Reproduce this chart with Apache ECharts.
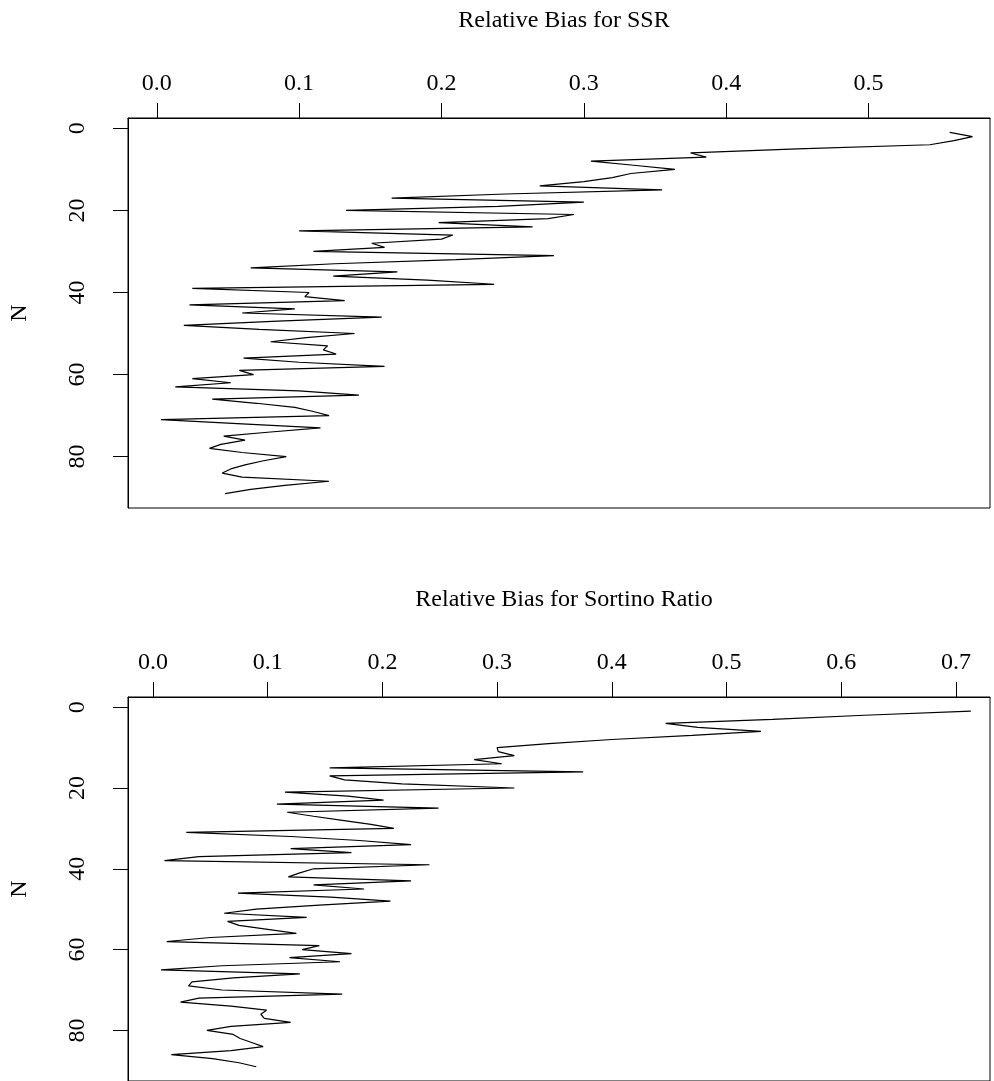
<!DOCTYPE html>
<html>
<head>
<meta charset="utf-8">
<title>Relative Bias</title>
<script src="https://cdn.jsdelivr.net/npm/echarts@6/dist/echarts.min.js"></script>
<style>
  html, body { margin: 0; padding: 0; background: #fff; }
  #chart { width: 994px; height: 1081px; }
</style>
</head>
<body>
<div id="chart"></div>
<script>
// sample size N (y axis) shared by both panels
const sampleSizes = [
  1, 2, 3, 4, 5, 6, 7, 8, 9, 10,
  11, 12, 13, 14, 15, 16, 17, 18, 19, 20,
  21, 22, 23, 24, 25, 26, 27, 28, 29, 30,
  31, 32, 33, 34, 35, 36, 37, 38, 39, 40,
  41, 42, 43, 44, 45, 46, 47, 48, 49, 50,
  51, 52, 53, 54, 55, 56, 57, 58, 59, 60,
  61, 62, 63, 64, 65, 66, 67, 68, 69, 70,
  71, 72, 73, 74, 75, 76, 77, 78, 79, 80,
  81, 82, 83, 84, 85, 86, 87, 88, 89
]

// relative bias for SSR
const ssrBias = [
  0.557, 0.573, 0.560, 0.543, 0.450, 0.375, 0.386, 0.305, 0.335, 0.364,
  0.333, 0.320, 0.300, 0.269, 0.355, 0.245, 0.165, 0.300, 0.240, 0.133,
  0.293, 0.275, 0.198, 0.264, 0.100, 0.208, 0.200, 0.151, 0.160, 0.110,
  0.279, 0.210, 0.125, 0.066, 0.169, 0.124, 0.190, 0.237, 0.025, 0.107,
  0.104, 0.132, 0.023, 0.097, 0.060, 0.158, 0.085, 0.019, 0.072, 0.139,
  0.105, 0.080, 0.120, 0.117, 0.126, 0.061, 0.100, 0.160, 0.058, 0.068,
  0.025, 0.052, 0.013, 0.100, 0.142, 0.039, 0.070, 0.097, 0.110, 0.121,
  0.003, 0.060, 0.115, 0.080, 0.047, 0.062, 0.045, 0.037, 0.060, 0.091,
  0.075, 0.062, 0.052, 0.046, 0.060, 0.121, 0.090, 0.066, 0.048
]

// relative bias for Sortino ratio
const sortinoBias = [
  0.713, 0.620, 0.540, 0.447, 0.475, 0.530, 0.470, 0.400, 0.345, 0.300,
  0.301, 0.315, 0.280, 0.304, 0.154, 0.375, 0.154, 0.167, 0.217, 0.315,
  0.115, 0.170, 0.201, 0.108, 0.249, 0.117, 0.140, 0.165, 0.190, 0.210,
  0.029, 0.120, 0.180, 0.225, 0.120, 0.173, 0.040, 0.010, 0.241, 0.140,
  0.128, 0.118, 0.225, 0.140, 0.184, 0.074, 0.155, 0.207, 0.145, 0.090,
  0.062, 0.134, 0.065, 0.075, 0.100, 0.125, 0.050, 0.012, 0.145, 0.130,
  0.173, 0.119, 0.163, 0.060, 0.007, 0.128, 0.070, 0.034, 0.031, 0.060,
  0.165, 0.040, 0.024, 0.068, 0.099, 0.094, 0.097, 0.120, 0.068, 0.047,
  0.070, 0.076, 0.086, 0.096, 0.068, 0.016, 0.052, 0.075, 0.090
]

const ssrTicks = [0.0, 0.1, 0.2, 0.3, 0.4, 0.5]
const sortinoTicks = [0.0, 0.1, 0.2, 0.3, 0.4, 0.5, 0.6, 0.7]
const nTicks = [0, 20, 40, 60, 80]

const font = 'Liberation Serif'
const fontSize = 24
const black = '#000'

function pairs (values) {
  return values.map((v, i) => [v, sampleSizes[i]])
}

function xAxisFor (i, min, max, ticks) {
  return {
    gridIndex: i,
    type: 'value',
    position: 'top',
    min: min,
    max: max,
    axisLine: { show: true, onZero: false, lineStyle: { color: black, width: 1 } },
    splitLine: { show: false },
    axisTick: { show: true, length: 15, customValues: ticks, lineStyle: { color: black } },
    axisLabel: {
      customValues: ticks,
      formatter: v => v.toFixed(1),
      margin: 22,
      color: black,
      fontFamily: font,
      fontSize: fontSize
    }
  }
}

function yAxisFor (i) {
  return {
    gridIndex: i,
    type: 'value',
    inverse: true,
    min: -2.52,
    max: 92.52,
    name: 'N',
    nameLocation: 'middle',
    nameGap: 96,
    nameRotate: 90,
    nameTextStyle: { color: black, fontFamily: font, fontSize: fontSize },
    axisLine: { show: true, onZero: false, lineStyle: { color: black, width: 1 } },
    splitLine: { show: false },
    axisTick: { show: true, length: 15, customValues: nTicks, lineStyle: { color: black } },
    axisLabel: {
      customValues: nTicks,
      rotate: 90,
      margin: 38,
      color: black,
      fontFamily: font,
      fontSize: fontSize
    }
  }
}

const chart = echarts.init(document.getElementById('chart'), null, { renderer: 'canvas' })

chart.setOption({
  animation: false,
  backgroundColor: '#fff',
  title: [
    {
      text: 'Relative Bias for SSR',
      left: 559,
      top: 4,
      textAlign: 'center',
      textStyle: { color: black, fontFamily: font, fontSize: fontSize, fontWeight: 'normal' }
    },
    {
      text: 'Relative Bias for Sortino Ratio',
      left: 559,
      top: 583,
      textAlign: 'center',
      textStyle: { color: black, fontFamily: font, fontSize: fontSize, fontWeight: 'normal' }
    }
  ],
  grid: [
    { left: 128, top: 118, width: 862, height: 390, show: true, borderColor: black, borderWidth: 1 },
    { left: 128, top: 697, width: 862, height: 390, show: true, borderColor: black, borderWidth: 1 }
  ],
  xAxis: [
    xAxisFor(0, -0.0202, 0.5853, ssrTicks),
    xAxisFor(1, -0.0218, 0.7297, sortinoTicks)
  ],
  yAxis: [yAxisFor(0), yAxisFor(1)],
  series: [
    {
      type: 'line',
      xAxisIndex: 0,
      yAxisIndex: 0,
      data: pairs(ssrBias),
      showSymbol: false,
      symbol: 'none',
      lineStyle: { color: black, width: 1.2 }
    },
    {
      type: 'line',
      xAxisIndex: 1,
      yAxisIndex: 1,
      data: pairs(sortinoBias),
      showSymbol: false,
      symbol: 'none',
      lineStyle: { color: black, width: 1.2 }
    }
  ]
})
</script>
</body>
</html>
